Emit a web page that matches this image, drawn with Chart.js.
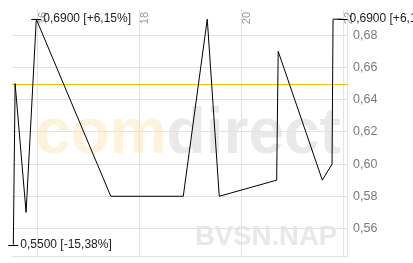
<!DOCTYPE html>
<html>
<head>
<meta charset="utf-8">
<script src="https://cdn.jsdelivr.net/npm/chart.js@4"></script>
<style>
  html, body { margin: 0; padding: 0; background: #ffffff; }
  #wrap { width: 413px; height: 263px; }
</style>
</head>
<body>
<div id="wrap"><canvas id="c" width="413" height="263"></canvas></div>
<script>
// ---- data ----
const dayPositions = [15.53, 15.565, 15.78, 15.98, 17.44, 18.86, 19.33, 19.565, 20.69, 20.72, 21.585, 21.775, 21.795, 21.98];
const prices       = [0.55, 0.65, 0.57, 0.69, 0.58, 0.58, 0.69, 0.58, 0.59, 0.67, 0.59, 0.60, 0.69, 0.69];
const dayTickLabels = ['16', '18', '20', '22'];
const dayTickValues = [16, 18, 20, 22];
const priceTickValues = [0.56, 0.58, 0.60, 0.62, 0.64, 0.66, 0.68];
const previousClose = 0.65;
const markedPoints = [0, 3, 13];   // low and high annotations
const symbolName = 'BVSN.NAP';

const xMin = 15.504, xMax = 22.078;
const yMin = 0.5429, yMax = 0.6960;

const fmtDe = (v, d) => v.toFixed(d).replace('.', ',');
const pctLabel = v => {
  const p = (v / previousClose - 1) * 100;
  return (p >= 0 ? '+' : '-') + fmtDe(Math.abs(p), 2) + '%';
};

const backgroundPlugin = {
  id: 'bgWatermark',
  beforeDraw(chart) {
    const ctx = chart.ctx;
    ctx.save();
    ctx.fillStyle = '#ffffff';
    ctx.fillRect(0, 0, chart.width, chart.height);
    ctx.textBaseline = 'alphabetic';
    ctx.textAlign = 'left';
    ctx.font = "bold 64px 'Liberation Sans', Arial, sans-serif";
    const x0 = 35, base = 153;
    ctx.fillStyle = '#fdf3dc';
    ctx.fillText('com', x0, base);
    const w = ctx.measureText('com').width;
    ctx.fillStyle = '#e9e9e9';
    ctx.fillText('direct', x0 + w, base);
    ctx.font = "bold 27.5px 'Liberation Sans', Arial, sans-serif";
    ctx.fillStyle = '#e8e8e8';
    ctx.fillText(symbolName, 195, 245);
    ctx.restore();
  }
};

const referenceLinePlugin = {
  id: 'prevClose',
  beforeDatasetsDraw(chart) {
    const ctx = chart.ctx;
    const ys = chart.scales.y;
    const area = chart.chartArea;
    const y = Math.ceil(ys.getPixelForValue(previousClose)) + 0.5;
    ctx.save();
    ctx.strokeStyle = '#f2c200';
    ctx.lineWidth = 1;
    ctx.beginPath();
    ctx.moveTo(area.left, y);
    ctx.lineTo(area.right, y);
    ctx.stroke();
    ctx.restore();
  }
};

const annotationsPlugin = {
  id: 'annotations',
  afterDatasetsDraw(chart) {
    const ctx = chart.ctx;
    const xs = chart.scales.x;
    const area = chart.chartArea;
    ctx.save();
    // rotated day labels at the top of the plot
    ctx.font = "11px 'Liberation Sans', Arial, sans-serif";
    ctx.fillStyle = '#9a9a9a';
    ctx.textAlign = 'right';
    ctx.textBaseline = 'middle';
    dayTickValues.forEach((v, i) => {
      const px = xs.getPixelForValue(v) + 5.7;
      ctx.save();
      ctx.translate(px, area.top + 2.5);
      ctx.rotate(-Math.PI / 2);
      ctx.fillText(dayTickLabels[i], 0, 0);
      ctx.restore();
    });
    // high / low markers
    const meta = chart.getDatasetMeta(0);
    ctx.font = "12px 'Liberation Sans', Arial, sans-serif";
    ctx.textAlign = 'left';
    ctx.textBaseline = 'middle';
    markedPoints.forEach(i => {
      const pt = meta.data[i];
      const v = prices[i];
      ctx.strokeStyle = '#000000';
      ctx.lineWidth = 1;
      ctx.beginPath();
      const y = Math.round(pt.y) + 0.5;
      ctx.moveTo(pt.x - 5, y);
      ctx.lineTo(pt.x + 5, y);
      ctx.stroke();
      ctx.fillStyle = '#222222';
      ctx.fillText(fmtDe(v, 4) + ' [' + pctLabel(v) + ']', pt.x + 7, pt.y);
    });
    ctx.restore();
  }
};

const gridColor = '#e3e3e3';

new Chart(document.getElementById('c'), {
  type: 'line',
  data: {
    datasets: [
      {
        data: dayPositions.map((d, i) => ({ x: d, y: prices[i] })),
        borderColor: '#000000',
        borderWidth: 1,
        pointRadius: 0,
        tension: 0,
        fill: false
      }
    ]
  },
  options: {
    responsive: false,
    animation: false,
    events: [],
    layout: { padding: { left: 12, top: 9.5, bottom: 7, right: 0 } },
    plugins: { legend: { display: false }, tooltip: { enabled: false } },
    scales: {
      x: {
        type: 'linear',
        position: 'bottom',
        min: xMin,
        max: xMax,
        afterBuildTicks(scale) { scale.ticks = dayTickValues.map(v => ({ value: v })); },
        afterFit(scale) { scale.height = 0; scale.paddingLeft = 0; scale.paddingRight = 0; },
        ticks: { display: false },
        grid: { color: gridColor, drawTicks: false, lineWidth: 1 },
        border: { display: true, color: gridColor }
      },
      y: {
        type: 'linear',
        position: 'right',
        min: yMin,
        max: yMax,
        afterBuildTicks(scale) { scale.ticks = priceTickValues.map(v => ({ value: v })); },
        afterFit(scale) { scale.width = 65.5; scale.paddingTop = 0; scale.paddingBottom = 0; },
        ticks: {
          padding: 5.5,
          color: '#7a7a7a',
          font: { family: "'Liberation Sans', Arial, sans-serif", size: 12.5 },
          callback: v => fmtDe(v, 2)
        },
        grid: { color: gridColor, drawTicks: false, lineWidth: 1 },
        border: { display: true, color: gridColor }
      }
    }
  },
  plugins: [backgroundPlugin, referenceLinePlugin, annotationsPlugin]
});
</script>
</body>
</html>
